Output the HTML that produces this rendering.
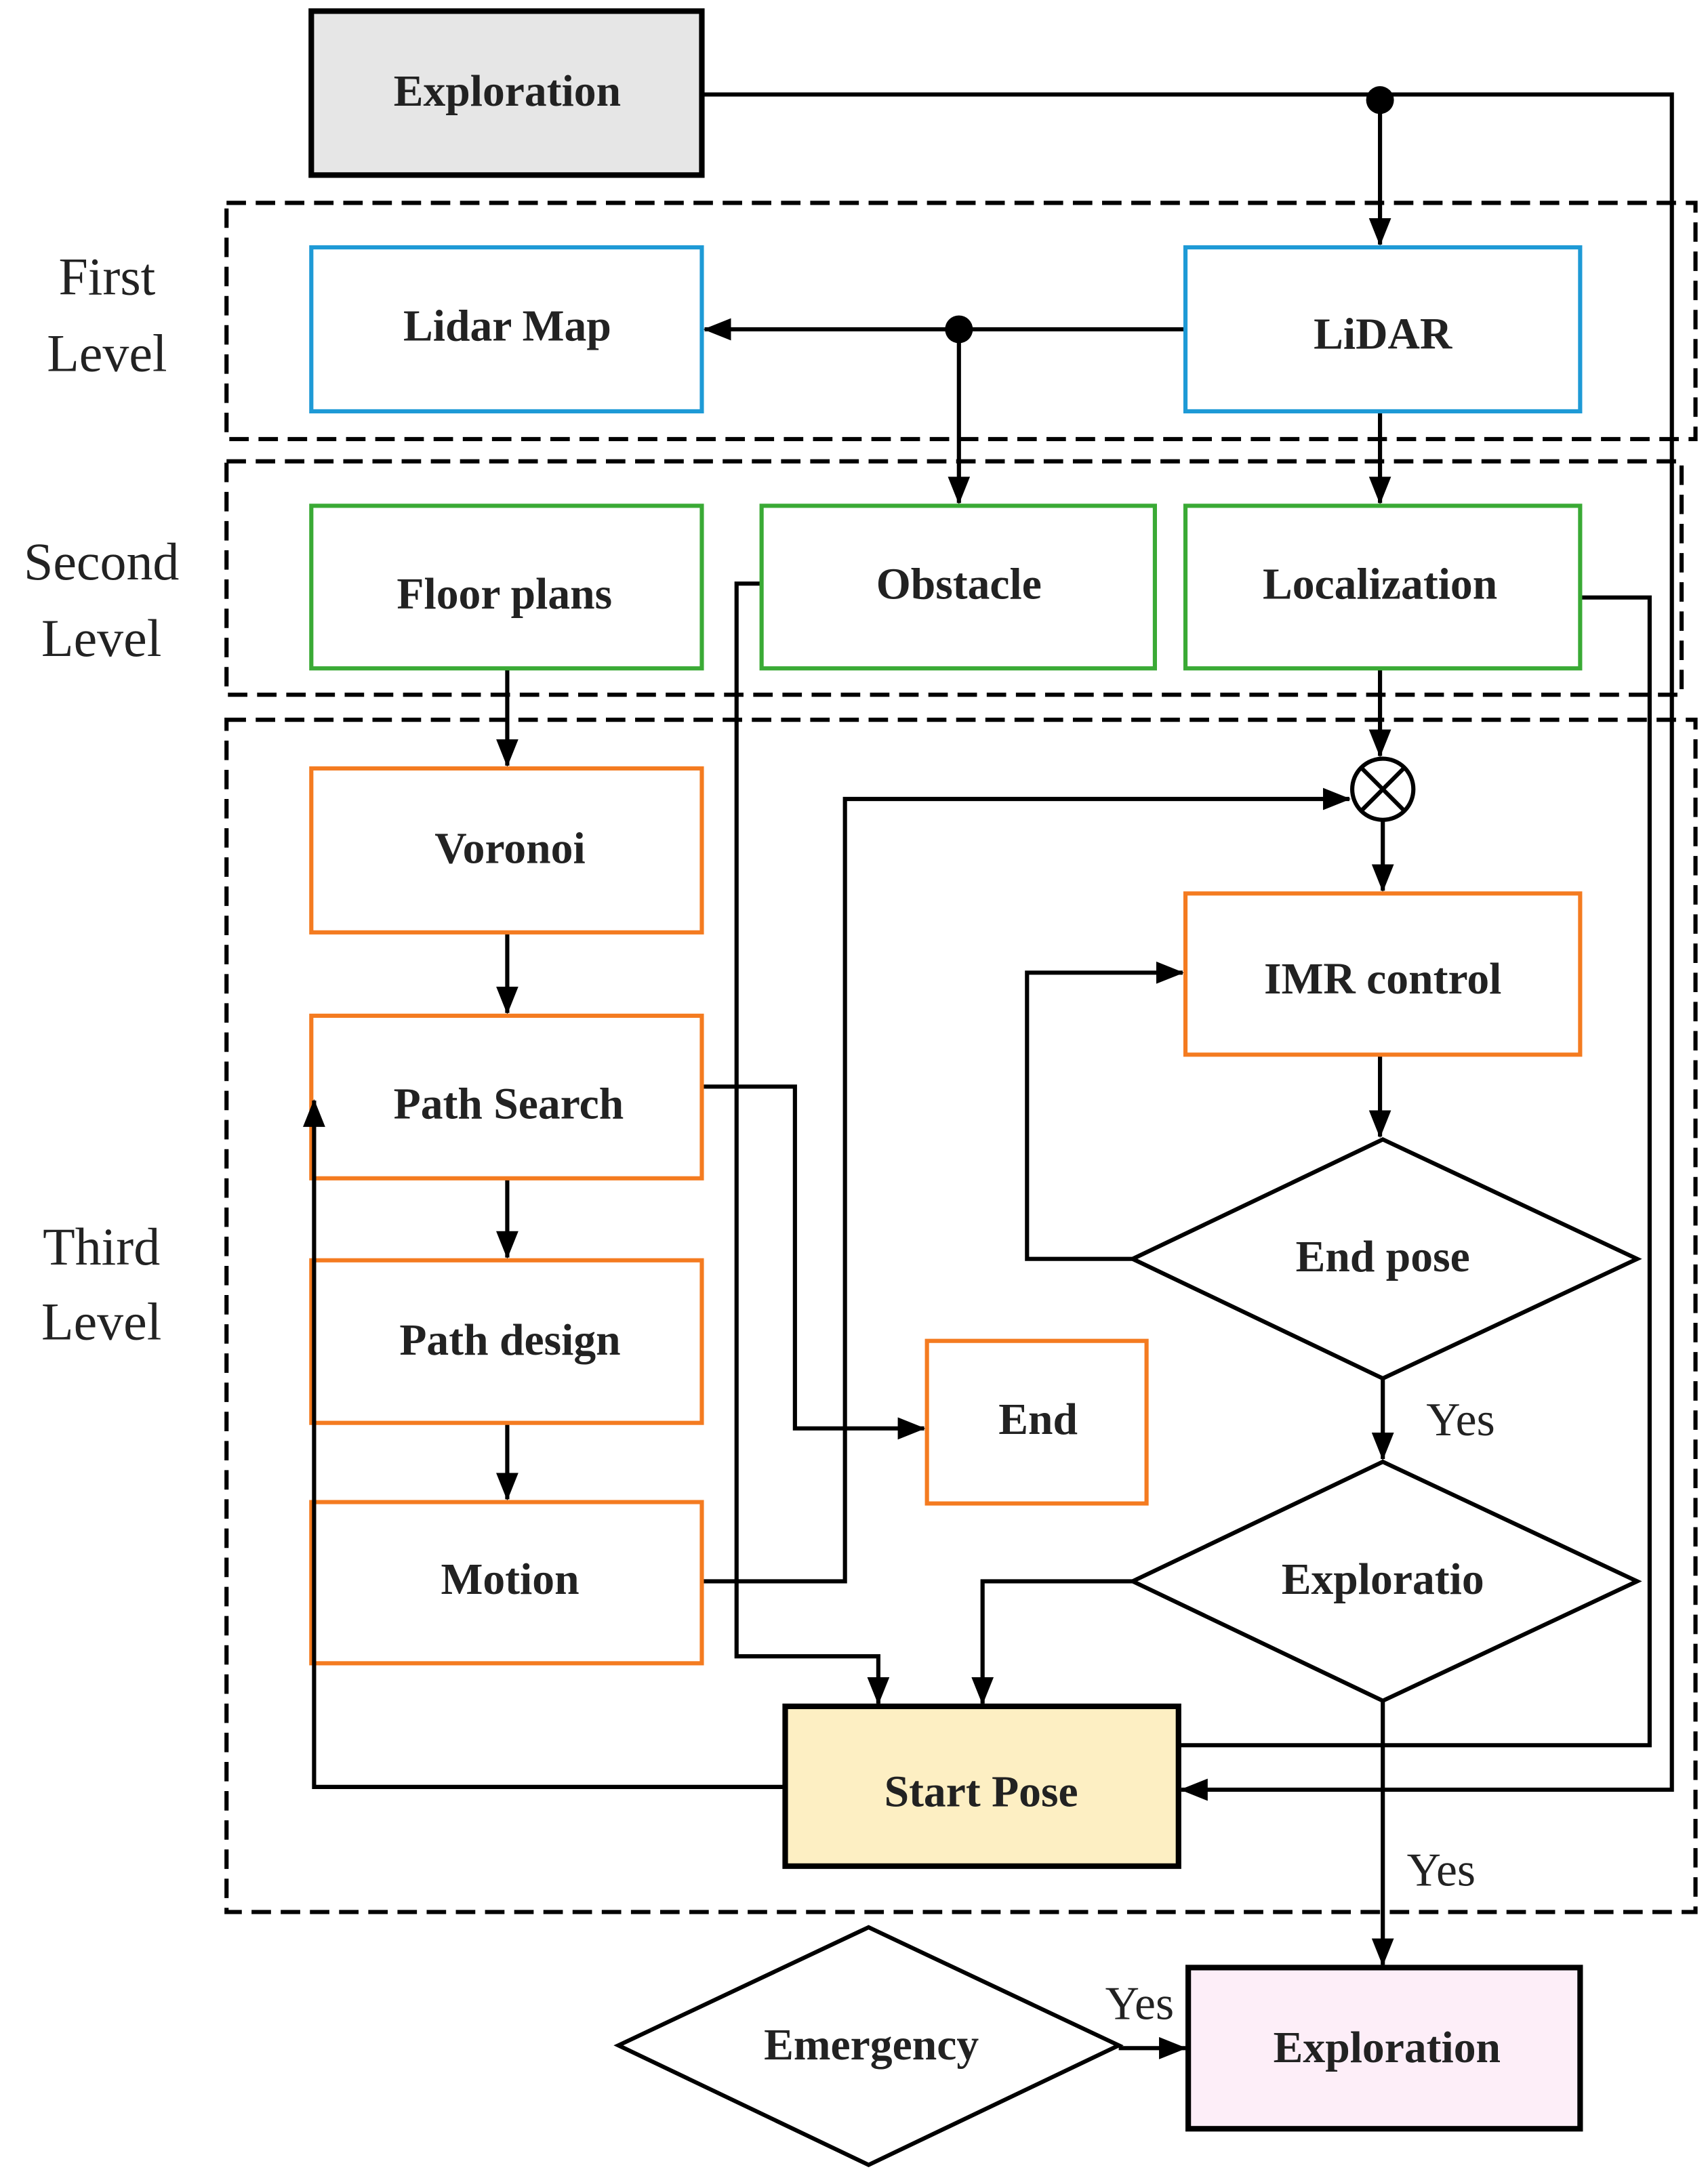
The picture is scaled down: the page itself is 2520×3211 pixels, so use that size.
<!DOCTYPE html>
<html><head><meta charset="utf-8"><style>
html,body{margin:0;padding:0;background:#fff;}
svg{display:block;}
text{font-family:"Liberation Serif",serif;font-weight:bold;fill:#222;}
</style></head><body>
<svg width="2520" height="3211" viewBox="0 0 1229 1566" xmlns="http://www.w3.org/2000/svg">
<defs>
<marker id="b" markerWidth="20" markerHeight="16" refX="19" refY="8" orient="auto" markerUnits="userSpaceOnUse">
<path d="M0,0 L20,8 L0,16 z" fill="#000"/>
</marker>
</defs>
<rect width="1229" height="1566" fill="#fff"/>
<g fill="none" stroke="#000" stroke-width="3" stroke-dasharray="14,7">
<rect x="163" y="146" width="1057" height="170"/>
<rect x="163" y="332" width="1047" height="168"/>
<rect x="163" y="518" width="1057" height="858"/>
</g>
<g font-size="38" text-anchor="middle">
<text x="77" y="212" style="font-weight:normal">First</text>
<text x="77" y="267" style="font-weight:normal">Level</text>
<text x="73" y="417" style="font-weight:normal">Second</text>
<text x="73" y="472" style="font-weight:normal">Level</text>
<text x="73" y="910" style="font-weight:normal">Third</text>
<text x="73" y="964" style="font-weight:normal">Level</text>
</g>
<g fill="none" stroke="#000" stroke-width="3">
<polyline points="505,68 1203,68 1203,1288 850,1288" marker-end="url(#b)"/>
<line x1="993" y1="72" x2="993" y2="176" marker-end="url(#b)"/>
<line x1="853" y1="237" x2="507" y2="237" marker-end="url(#b)"/>
<line x1="690" y1="237" x2="690" y2="362" marker-end="url(#b)"/>
<line x1="993" y1="296" x2="993" y2="362" marker-end="url(#b)"/>
<polyline points="1137,430 1187,430 1187,1256 848,1256"/>
<polyline points="548,420 530,420 530,1192 632,1192 632,1226" marker-end="url(#b)"/>
<line x1="365" y1="481" x2="365" y2="551" marker-end="url(#b)"/>
<line x1="993" y1="481" x2="993" y2="544" marker-end="url(#b)"/>
<line x1="995" y1="590" x2="995" y2="641" marker-end="url(#b)"/>
<line x1="365" y1="671" x2="365" y2="729" marker-end="url(#b)"/>
<line x1="365" y1="848" x2="365" y2="905" marker-end="url(#b)"/>
<line x1="365" y1="1024" x2="365" y2="1079" marker-end="url(#b)"/>
<polyline points="505,1138 608,1138 608,575 971,575" marker-end="url(#b)"/>
<polyline points="505,782 572,782 572,1028 665,1028" marker-end="url(#b)"/>
<line x1="993" y1="759" x2="993" y2="818" marker-end="url(#b)"/>
<polyline points="815,906 739,906 739,700 851,700" marker-end="url(#b)"/>
<line x1="995" y1="992" x2="995" y2="1050" marker-end="url(#b)"/>
<polyline points="815,1138 707,1138 707,1226" marker-end="url(#b)"/>
<line x1="995" y1="1224" x2="995" y2="1414" marker-end="url(#b)"/>
<line x1="805" y1="1474" x2="853" y2="1474" marker-end="url(#b)"/>
</g>
<circle cx="993" cy="72" r="10" fill="#000"/>
<circle cx="690" cy="237" r="10" fill="#000"/>
<circle cx="995" cy="568" r="22" fill="#fff" stroke="#000" stroke-width="3"/>
<line x1="980" y1="553" x2="1010" y2="583" stroke="#000" stroke-width="3"/>
<line x1="1010" y1="553" x2="980" y2="583" stroke="#000" stroke-width="3"/>
<g stroke-width="3">
<rect x="224" y="8" width="281" height="118" fill="#e6e6e6" stroke="#000" stroke-width="4"/>
<rect x="224" y="178" width="281" height="118" fill="#fff" stroke="#1e9ad6"/>
<rect x="853" y="178" width="284" height="118" fill="#fff" stroke="#1e9ad6"/>
<rect x="224" y="364" width="281" height="117" fill="#fff" stroke="#3aaa35"/>
<rect x="548" y="364" width="283" height="117" fill="#fff" stroke="#3aaa35"/>
<rect x="853" y="364" width="284" height="117" fill="#fff" stroke="#3aaa35"/>
<rect x="224" y="553" width="281" height="118" fill="#fff" stroke="#f47b20"/>
<rect x="224" y="731" width="281" height="117" fill="#fff" stroke="#f47b20"/>
<rect x="224" y="907" width="281" height="117" fill="#fff" stroke="#f47b20"/>
<rect x="224" y="1081" width="281" height="116" fill="#fff" stroke="#f47b20"/>
<rect x="667" y="965" width="158" height="117" fill="#fff" stroke="#f47b20"/>
<rect x="853" y="643" width="284" height="116" fill="#fff" stroke="#f47b20"/>
<rect x="565" y="1228" width="283" height="115" fill="#fdefc3" stroke="#000" stroke-width="4"/>
<rect x="855" y="1416" width="282" height="116" fill="#fdeef8" stroke="#000" stroke-width="4"/>
<polygon points="815,906 995,820 1178,906 995,992" fill="#fff" stroke="#000"/>
<polygon points="815,1138 995,1052 1178,1138 995,1224" fill="#fff" stroke="#000"/>
<polygon points="445,1472 625,1387 805,1472 625,1558" fill="#fff" stroke="#000"/>
</g>
<polyline points="565,1286 226,1286 226,792" fill="none" stroke="#000" stroke-width="3" marker-end="url(#b)"/>
<g font-size="32" text-anchor="middle">
<text x="365" y="76">Exploration</text>
<text x="365" y="245">Lidar Map</text>
<text x="995" y="251">LiDAR</text>
<text x="363" y="438">Floor plans</text>
<text x="690" y="431">Obstacle</text>
<text x="993" y="431">Localization</text>
<text x="367" y="621">Voronoi</text>
<text x="366" y="805">Path Search</text>
<text x="367" y="975">Path design</text>
<text x="367" y="1147">Motion</text>
<text x="747" y="1032">End</text>
<text x="995" y="715">IMR control</text>
<text x="995" y="915">End pose</text>
<text x="995" y="1147">Exploratio</text>
<text x="706" y="1300">Start Pose</text>
<text x="998" y="1484">Exploration</text>
<text x="627" y="1482">Emergency</text>
</g>
<g font-size="34" text-anchor="middle">
<text x="1051" y="1033" style="font-weight:normal">Yes</text>
<text x="1037" y="1357" style="font-weight:normal">Yes</text>
<text x="820" y="1453" style="font-weight:normal">Yes</text>
</g>
</svg>
</body></html>
